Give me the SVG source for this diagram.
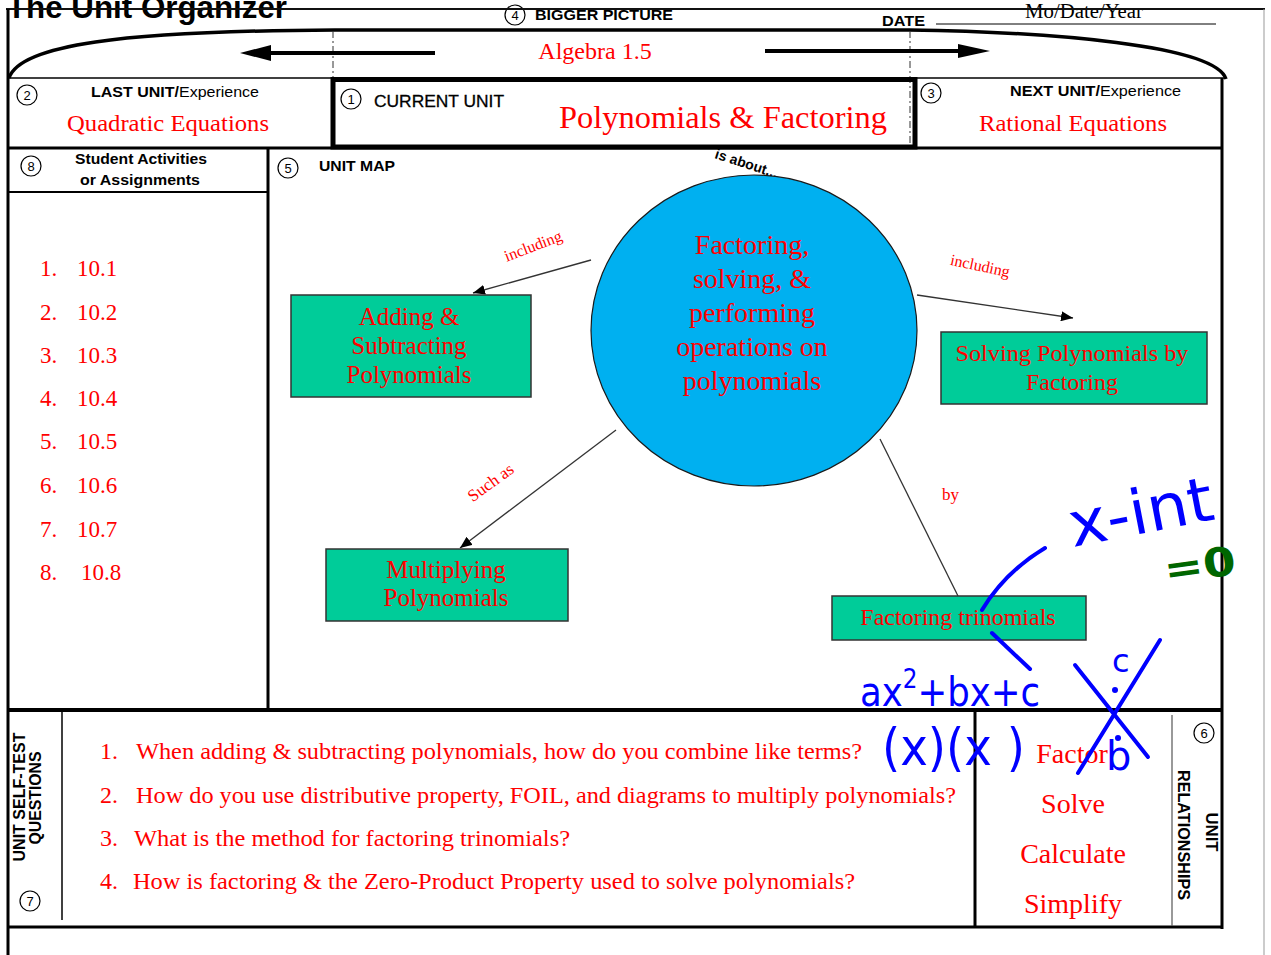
<svg xmlns="http://www.w3.org/2000/svg" width="1271" height="955" viewBox="0 0 1271 955">
<defs>
<style>
.sans{font-family:"Liberation Sans",Arial,sans-serif}
.serif{font-family:"Liberation Serif","Times New Roman",serif}
.red{fill:#FF0000}
.b{font-weight:bold}
.num circle{fill:#fff;stroke:#000;stroke-width:1.2}
.num text{font-family:"Liberation Sans",Arial,sans-serif;font-size:13px;text-anchor:middle}
.box{fill:#00CC99;stroke:#333;stroke-width:1.5}
.conn{stroke:#333;stroke-width:1.3;fill:none}
.ink{stroke:#0000FF;stroke-width:4;fill:none;stroke-linecap:round;stroke-linejoin:round}
.inkt{font-family:"DejaVu Sans",sans-serif;fill:#0000FF}
.lbl{font-family:"Liberation Serif","Times New Roman",serif;fill:#FF0000}
</style>
<marker id="ah" viewBox="0 0 12 10" refX="12" refY="5" markerWidth="12" markerHeight="10" markerUnits="userSpaceOnUse" orient="auto"><path d="M0,0 L12,5 L0,10 z" fill="#000"/></marker>
</defs>
<rect x="0" y="0" width="1271" height="955" fill="#fff"/>

<g id="header">
<text class="sans b" x="7" y="18" font-size="31" textLength="280" lengthAdjust="spacingAndGlyphs">The Unit Organizer</text>
<g class="num"><circle cx="515" cy="15" r="10"/><text x="515" y="20">4</text></g>
<text class="sans b" x="535" y="20" font-size="15" textLength="138" lengthAdjust="spacingAndGlyphs">BIGGER PICTURE</text>
<text class="sans b" x="882" y="26" font-size="15" textLength="43" lengthAdjust="spacingAndGlyphs">DATE</text>
<line x1="936" y1="24" x2="1216" y2="24" stroke="#000" stroke-width="1"/>
<text class="serif" x="1025" y="18" font-size="20" textLength="118" lengthAdjust="spacingAndGlyphs">Mo/Date/Year</text>
<line x1="6" y1="9" x2="1265" y2="9" stroke="#111" stroke-width="2"/>
<line x1="8" y1="9" x2="8" y2="955" stroke="#000" stroke-width="3"/>
<line x1="1264" y1="9" x2="1264" y2="955" stroke="#999" stroke-width="1"/>
</g>

<g id="bigger-picture">
<path d="M9,78 C20,45 120,31 335,30 L909,30 C1050,32 1215,45 1226,79" fill="none" stroke="#000" stroke-width="3.5"/>
<line x1="333" y1="31" x2="333" y2="78" stroke="#333" stroke-width="1" stroke-dasharray="7,3,2,3"/>
<line x1="910" y1="31" x2="910" y2="148" stroke="#333" stroke-width="1" stroke-dasharray="7,3,2,3"/>
<line x1="268" y1="53" x2="435" y2="53" stroke="#000" stroke-width="4"/>
<polygon points="240,53 271,45 271,61" fill="#000"/>
<line x1="765" y1="51" x2="960" y2="51" stroke="#000" stroke-width="4"/>
<polygon points="990,51 958,44 958,58" fill="#000"/>
<text class="serif red" x="595" y="59" font-size="24" text-anchor="middle">Algebra 1.5</text>
</g>

<g id="last-unit">
<line x1="8" y1="78" x2="334" y2="78" stroke="#000" stroke-width="1.5"/>
<g class="num"><circle cx="27" cy="95" r="10"/><text x="27" y="100">2</text></g>
<text class="sans" x="91" y="97" font-size="15" textLength="168" lengthAdjust="spacingAndGlyphs"><tspan class="b">LAST UNIT/</tspan>Experience</text>
<text class="serif red" x="168" y="131" font-size="24" text-anchor="middle" textLength="202" lengthAdjust="spacingAndGlyphs">Quadratic Equations</text>
</g>

<g id="current-unit">
<rect x="333" y="79.5" width="582" height="67.5" fill="none" stroke="#000" stroke-width="5"/>
<g class="num"><circle cx="351" cy="99" r="10"/><text x="351" y="104">1</text></g>
<text class="sans" x="374" y="107" font-size="17" textLength="130" lengthAdjust="spacingAndGlyphs" stroke="#000" stroke-width="0.3">CURRENT UNIT</text>
<text class="serif red" x="723" y="128" font-size="32" text-anchor="middle" textLength="328" lengthAdjust="spacingAndGlyphs">Polynomials &amp; Factoring</text>
</g>

<g id="next-unit">
<line x1="914" y1="78" x2="1226" y2="78" stroke="#000" stroke-width="1.5"/>
<g class="num"><circle cx="931" cy="93" r="10"/><text x="931" y="98">3</text></g>
<text class="sans" x="1010" y="96" font-size="15" textLength="171" lengthAdjust="spacingAndGlyphs"><tspan class="b">NEXT UNIT/</tspan>Experience</text>
<text class="serif red" x="1073" y="131" font-size="24" text-anchor="middle" textLength="188" lengthAdjust="spacingAndGlyphs">Rational Equations</text>
</g>

<g id="is-about">
<text class="sans b" x="714" y="158" font-size="14" transform="rotate(18 714 158)">is about...</text>
</g>

<g id="frame">
<line x1="1222" y1="78" x2="1222" y2="929" stroke="#000" stroke-width="3"/>
<line x1="8" y1="148" x2="1223" y2="148" stroke="#000" stroke-width="3"/>
<line x1="268" y1="148" x2="268" y2="711" stroke="#000" stroke-width="3"/>
<line x1="8" y1="710" x2="1223" y2="710" stroke="#000" stroke-width="4"/>
<line x1="8" y1="927" x2="1223" y2="927" stroke="#000" stroke-width="3"/>
</g>

<g id="activities">
<g class="num"><circle cx="31" cy="166" r="10"/><text x="31" y="171">8</text></g>
<text class="sans b" x="141" y="164" font-size="15" text-anchor="middle" textLength="132" lengthAdjust="spacingAndGlyphs">Student Activities</text>
<text class="sans b" x="140" y="185" font-size="15" text-anchor="middle" textLength="120" lengthAdjust="spacingAndGlyphs">or Assignments</text>
<line x1="8" y1="192" x2="268" y2="192" stroke="#000" stroke-width="2"/>
<g class="serif red" font-size="23">
<text x="40" y="276">1.</text><text x="77" y="276">10.1</text>
<text x="40" y="320">2.</text><text x="77" y="320">10.2</text>
<text x="40" y="363">3.</text><text x="77" y="363">10.3</text>
<text x="40" y="406">4.</text><text x="77" y="406">10.4</text>
<text x="40" y="449">5.</text><text x="77" y="449">10.5</text>
<text x="40" y="493">6.</text><text x="77" y="493">10.6</text>
<text x="40" y="537">7.</text><text x="77" y="537">10.7</text>
<text x="40" y="580">8.</text><text x="81" y="580">10.8</text>
</g>
</g>

<g id="unit-map-header">
<g class="num"><circle cx="288" cy="168" r="10"/><text x="288" y="173">5</text></g>
<text class="sans b" x="319" y="171" font-size="15" textLength="76" lengthAdjust="spacingAndGlyphs">UNIT MAP</text>
</g>

<g id="connectors">
<line class="conn" x1="591" y1="260" x2="473" y2="293" marker-end="url(#ah)"/>
<line class="conn" x1="917" y1="295" x2="1073" y2="318" marker-end="url(#ah)"/>
<line class="conn" x1="616" y1="430" x2="460" y2="548" marker-end="url(#ah)"/>
<line class="conn" x1="880" y1="439" x2="958" y2="596"/>
<text class="lbl" x="535" y="251" font-size="16" text-anchor="middle" transform="rotate(-21 535 251)">including</text>
<text class="lbl" x="979" y="271" font-size="16" text-anchor="middle" transform="rotate(12 979 271)">including</text>
<text class="lbl" x="494" y="487" font-size="17" text-anchor="middle" transform="rotate(-36 494 487)">Such as</text>
<text class="lbl" x="942" y="500" font-size="17">by</text>
</g>

<g id="center-node">
<ellipse cx="754" cy="330.5" rx="163" ry="155.5" fill="#00B0F0" stroke="#1a1a1a" stroke-width="1.2"/>
<g class="serif red" font-size="28" text-anchor="middle">
<text x="752" y="254">Factoring,</text>
<text x="752" y="288">solving, &amp;</text>
<text x="752" y="322">performing</text>
<text x="752" y="356">operations on</text>
<text x="752" y="390">polynomials</text>
</g>
</g>

<g id="node-adding">
<rect class="box" x="291" y="295" width="240" height="102"/>
<g class="serif red" font-size="25" text-anchor="middle">
<text x="409" y="325">Adding &amp;</text>
<text x="409" y="354">Subtracting</text>
<text x="409" y="383">Polynomials</text>
</g>
</g>

<g id="node-solving">
<rect class="box" x="941" y="332" width="266" height="72"/>
<g class="serif red" font-size="24" text-anchor="middle">
<text x="1072" y="361" textLength="233" lengthAdjust="spacingAndGlyphs">Solving Polynomials by</text>
<text x="1072" y="390">Factoring</text>
</g>
</g>

<g id="node-multiplying">
<rect class="box" x="326" y="549" width="242" height="72"/>
<g class="serif red" font-size="25" text-anchor="middle">
<text x="446" y="578">Multiplying</text>
<text x="446" y="606">Polynomials</text>
</g>
</g>

<g id="node-factoring-trinomials">
<rect class="box" x="832" y="596" width="254" height="44"/>
<text class="serif red" x="958" y="625" font-size="24" text-anchor="middle">Factoring trinomials</text>
</g>

<g id="self-test">
<line x1="62" y1="712" x2="62" y2="920" stroke="#000" stroke-width="1.5"/>
<text class="sans b" transform="translate(25,797) rotate(-90)" font-size="16" text-anchor="middle" textLength="129" lengthAdjust="spacingAndGlyphs">UNIT SELF-TEST</text>
<text class="sans b" transform="translate(41,798) rotate(-90)" font-size="16" text-anchor="middle" textLength="93" lengthAdjust="spacingAndGlyphs">QUESTIONS</text>
<g class="num"><circle cx="30" cy="901" r="10"/><text x="30" y="906">7</text></g>
<g class="serif red" font-size="24">
<text x="100" y="759">1.</text>
<text x="136" y="759" textLength="726" lengthAdjust="spacingAndGlyphs">When adding &amp; subtracting polynomials, how do you combine like terms?</text>
<text x="100" y="803">2.</text>
<text x="136" y="803" textLength="820" lengthAdjust="spacingAndGlyphs">How do you use distributive property, FOIL, and diagrams to multiply polynomials?</text>
<text x="100" y="846">3.</text>
<text x="134" y="846" textLength="436" lengthAdjust="spacingAndGlyphs">What is the method for factoring trinomials?</text>
<text x="100" y="889">4.</text>
<text x="133" y="889" textLength="722" lengthAdjust="spacingAndGlyphs">How is factoring &amp; the Zero-Product Property used to solve polynomials?</text>
</g>
</g>

<g id="relationships">
<line x1="975" y1="712" x2="975" y2="927" stroke="#000" stroke-width="3"/>
<line x1="1172" y1="715" x2="1172" y2="926" stroke="#555" stroke-width="1.2"/>
<g class="serif red" font-size="28" text-anchor="middle">
<text x="1072" y="763">Factor</text>
<text x="1073" y="813">Solve</text>
<text x="1073" y="863">Calculate</text>
<text x="1073" y="913">Simplify</text>
</g>
<g class="num"><circle cx="1204" cy="733" r="10"/><text x="1204" y="738">6</text></g>
<text class="sans b" transform="translate(1178,835) rotate(90)" font-size="16" text-anchor="middle" textLength="130" lengthAdjust="spacingAndGlyphs">RELATIONSHIPS</text>
<text class="sans b" transform="translate(1206,832) rotate(90)" font-size="16" text-anchor="middle" textLength="39" lengthAdjust="spacingAndGlyphs">UNIT</text>
</g>

<g id="annotations">
<text class="inkt" x="1073" y="547" font-size="62" transform="rotate(-11 1073 547)" textLength="146" lengthAdjust="spacingAndGlyphs">x-int</text>
<text x="1166" y="584" font-size="40" fill="#006600" font-family="DejaVu Sans,sans-serif" font-weight="bold" transform="rotate(-8 1166 584)" textLength="72" lengthAdjust="spacingAndGlyphs">=0</text>
<path class="ink" d="M1045,548 Q1005,572 982,610"/>
<path class="ink" d="M992,633 L1030,669"/>
<text class="inkt" x="860" y="706" font-size="40" textLength="180" lengthAdjust="spacingAndGlyphs">ax<tspan dy="-18" font-size="26">2</tspan><tspan dy="18">+bx+c</tspan></text>
<text class="inkt" x="882" y="765" font-size="52" textLength="143" lengthAdjust="spacingAndGlyphs">(x)(x )</text>
<path class="ink" d="M1075,665 L1148,757"/>
<path class="ink" d="M1160,640 L1078,773"/>
<text class="inkt" x="1112" y="672" font-size="32">c</text>
<circle cx="1115" cy="690" r="3" fill="#0000FF"/>
<text class="inkt" x="1106" y="770" font-size="40">b</text>
<circle cx="1118" cy="738" r="3" fill="#0000FF"/>
</g>
</svg>
